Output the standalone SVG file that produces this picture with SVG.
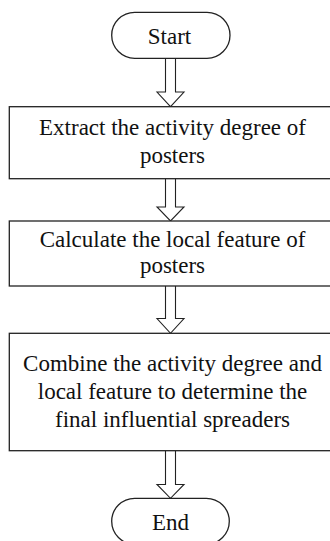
<svg xmlns="http://www.w3.org/2000/svg" width="330" height="541" viewBox="0 0 330 541">
<style>
.shape{fill:#fff;stroke:#222;stroke-width:1.3}
.arrow{fill:#fff;stroke:#222;stroke-width:1.1;stroke-linejoin:miter}
text{font-family:"Liberation Serif","Times New Roman",serif;font-size:23px;fill:#111;text-anchor:middle}
</style>
<rect width="330" height="541" fill="#fff"/>
<g id="connectors">
<polyline class="arrow" points="165.5,58.3 165.5,92 157,92 170.5,106.7 184,92 175.5,92 175.5,58.3"/>
<polyline class="arrow" points="165.5,178.7 165.5,207 157,207 170.5,221 184,207 175.5,207 175.5,178.7"/>
<polyline class="arrow" points="165.5,286 165.5,318.5 157,318.5 170.5,333.3 184,318.5 175.5,318.5 175.5,286"/>
<polyline class="arrow" points="165.5,450.7 165.5,484.5 157,484.5 170.5,498.3 184,484.5 175.5,484.5 175.5,450.7"/>
</g>
<g id="start">
<rect class="shape" x="111.7" y="12.3" width="118.3" height="46" rx="23" ry="23"/>
<text x="169.5" y="43.5">Start</text>
</g>
<g id="step1">
<rect class="shape" x="9.3" y="106.7" width="330" height="72"/>
<text x="172.5" y="135">Extract the activity degree of</text>
<text x="172.5" y="162.5">posters</text>
</g>
<g id="step2">
<rect class="shape" x="9.3" y="221" width="330" height="65"/>
<text x="172.5" y="246.8">Calculate the local feature of</text>
<text x="172.5" y="272.5">posters</text>
</g>
<g id="step3">
<rect class="shape" x="9.3" y="333.3" width="330" height="117.4"/>
<text x="172.5" y="371">Combine the activity degree and</text>
<text x="172.5" y="398.5">local feature to determine the</text>
<text x="172.5" y="426.5">final influential spreaders</text>
</g>
<g id="end">
<rect class="shape" x="111.7" y="498.3" width="117.6" height="46" rx="23" ry="23"/>
<text x="170.5" y="530">End</text>
</g>
</svg>
